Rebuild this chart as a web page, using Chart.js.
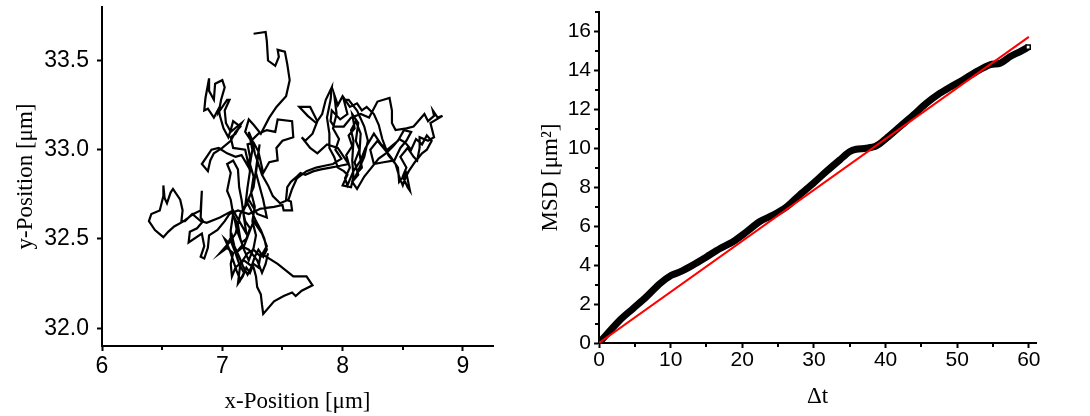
<!DOCTYPE html>
<html>
<head>
<meta charset="utf-8">
<script src="https://cdn.jsdelivr.net/npm/chart.js@4"></script>
<style>
  body { margin: 0; background: #fff; }
  #left { position: absolute; left: 0; top: 0; }
  #right { position: absolute; left: 520px; top: 0; }
</style>
</head>
<body>
<canvas id="left" width="520" height="416"></canvas>
<canvas id="right" width="570" height="416"></canvas>
<script>
// trajectory of the particle, µm
const xPos = [7.26,7.36,7.37,7.38,7.44,7.47,7.46,7.52,7.54,7.56,7.53,7.45,7.39,7.32,7.26,7.22,7.19,7.24,7.30,7.37,
  7.44,7.46,7.58,7.59,7.50,7.45,7.46,7.39,7.34,7.30,7.26,7.21,7.23,7.22,7.16,7.11,7.04,6.97,6.91,6.87,
  6.83,6.88,6.90,6.93,7.00,7.07,7.11,7.15,7.09,7.07,7.05,7.01,6.98,6.97,6.93,6.88,6.85,6.86,6.89,6.89,
  6.93,6.94,7.00,7.02,6.99,6.97,7.04,7.06,7.02,7.03,7.07,7.16,7.11,7.07,7.09,7.19,7.23,7.21,7.19,7.26,
  7.29,7.31,7.28,7.34,7.37,7.29,7.22,7.15,7.11,7.07,7.11,7.18,7.22,7.26,7.33,7.37,7.32,7.26,7.21,7.15,
  7.13,7.17,7.20,7.23,7.26,7.30,7.32,7.46,7.59,7.70,7.75,7.66,7.61,7.58,7.51,7.43,7.34,7.33,7.32,7.29,
  7.28,7.26,7.18,7.11,7.08,7.07,7.09,7.04,6.98,7.07,7.07,7.09,7.07,7.04,7.07,7.04,7.09,7.13,7.14,7.16,
  7.18,7.20,7.09,6.98,6.87,6.82,6.75,6.69,6.66,6.67,6.65,6.59,6.57,6.54,6.52,6.51,6.51,6.48,6.41,6.39,
  6.44,6.51,6.55,6.60,6.68,6.76,6.82,6.83,6.82,6.84,6.79,6.73,6.72,6.83,6.85,6.82,6.85,6.88,6.89,6.96,
  7.02,7.06,7.13,7.22,7.32,7.43,7.50,7.51,7.58,7.57,7.53,7.54,7.57,7.62,7.65,7.69,7.76,7.82,7.90,7.98,
  8.05,8.01,7.96,7.87,7.79,7.73,7.66,7.69,7.75,7.79,7.73,7.64,7.71,7.78,7.83,7.86,7.91,7.90,7.87,7.89,
  7.89,7.93,7.96,8.01,8.04,8.00,8.07,8.09,8.08,8.09,8.07,8.11,8.15,8.14,8.16,8.12,8.18,8.21,8.18,8.12,
  8.05,8.01,8.04,7.98,7.91,7.90,7.93,8.01,8.07,8.15,8.22,8.29,8.39,8.41,8.41,8.44,8.53,8.59,8.68,8.71,
  8.76,8.75,8.79,8.83,8.73,8.76,8.71,8.64,8.64,8.62,8.59,8.54,8.48,8.53,8.50,8.54,8.56,8.53,8.47,8.46,
  8.40,8.34,8.29,8.23,8.26,8.34,8.43,8.48,8.53,8.57,8.51,8.46,8.37,8.32,8.26,8.19,8.15,8.09,8.04,
  8.02,8.06,8.03,8.08,8.05,8.10,8.08,8.13,8.11,8.14,8.10,8.13,8.08,8.12,8.18,8.24,8.30,8.36,8.42,8.47,
  8.52,8.57,8.61,8.66,8.70,8.74,8.70,8.66,8.60,8.55,8.52,8.50,8.47,8.44,8.38,8.33,8.30,8.26,8.20,8.16,
  8.12,8.06,8.00,7.96,7.93,7.95,7.92,7.97,7.94,7.99,7.92,7.85,7.78,7.70,7.62,7.58,7.55,7.48,7.42,7.38,
  7.33,7.30,7.27,7.25,7.22,7.25,7.23,7.26,7.24,7.27,7.25,7.28,7.26,7.22,7.18,7.15,7.13,7.10,7.12,7.16,
  7.20,7.23,7.19,7.17,7.21,7.24,7.28,7.32,7.35,7.37,7.34,7.30,7.27,7.24,7.21,7.17,7.14,7.10,7.08,7.05,
  7.02,7.06,7.09,7.12,7.15,7.18,7.14,7.11,7.16,7.22,7.29,7.33,7.36,7.38];
const yPos = [33.65,33.66,33.61,33.50,33.47,33.52,33.56,33.55,33.48,33.39,33.30,33.24,33.18,33.09,33.14,33.17,33.10,33.05,33.09,33.11,
  33.10,33.17,33.16,33.07,33.05,33.01,32.94,32.93,32.87,32.99,33.04,33.03,32.96,32.90,32.97,32.96,32.98,33.01,33.00,32.96,
  32.92,32.88,32.94,32.98,33.01,33.05,33.10,33.13,33.16,33.11,33.07,33.12,33.19,33.23,33.18,33.23,33.22,33.29,33.40,33.33,
  33.28,33.37,33.39,33.35,33.28,33.21,33.28,33.28,33.22,33.15,33.10,33.15,33.09,33.07,33.01,33.00,32.88,32.79,32.68,32.79,
  32.94,33.03,32.87,32.72,32.62,32.64,32.72,32.64,32.53,32.49,32.42,32.46,32.53,32.60,32.53,32.46,32.40,32.44,32.42,32.36,
  32.25,32.29,32.34,32.31,32.36,32.34,32.42,32.36,32.29,32.29,32.24,32.21,32.18,32.20,32.18,32.15,32.08,32.13,32.19,32.23,
  32.29,32.34,32.38,32.34,32.29,32.36,32.42,32.45,32.42,32.49,32.55,32.64,32.72,32.77,32.87,32.92,32.94,32.89,32.79,32.72,
  32.62,32.53,32.66,32.62,32.59,32.60,32.64,32.60,32.60,32.66,32.72,32.78,32.76,32.70,32.73,32.80,32.74,32.66,32.64,32.60,
  32.55,32.51,32.54,32.57,32.60,32.64,32.66,32.77,32.62,32.60,32.56,32.54,32.48,32.53,32.46,32.40,32.39,32.45,32.52,32.55,
  32.60,32.64,32.66,32.64,32.67,32.68,32.69,32.66,32.66,32.71,32.72,32.79,32.82,32.85,32.87,32.86,32.88,32.89,32.90,32.91,
  32.92,32.96,33.01,33.03,32.98,33.01,33.07,33.05,33.09,33.16,33.24,33.24,33.19,33.15,33.20,33.28,33.35,33.28,33.18,33.09,
  33.01,32.96,32.90,32.88,32.86,32.80,32.79,32.85,32.94,33.05,33.11,33.16,33.09,32.98,32.90,32.87,32.96,33.05,33.13,33.22,
  33.28,33.28,33.20,33.17,33.22,33.16,33.13,33.13,33.18,33.20,33.18,33.27,33.29,33.22,33.15,33.11,33.12,33.13,33.20,33.16,
  33.19,33.22,33.18,33.19,33.15,33.07,33.05,33.07,33.01,32.94,32.96,33.01,32.96,32.90,32.85,32.79,32.77,32.87,32.82,32.90,
  32.96,33.01,33.05,33.00,32.92,32.93,32.94,33.01,33.05,33.10,33.11,33.05,33.00,33.03,33.09,33.01,32.94,32.88,32.80,
  32.84,32.90,32.97,33.02,33.08,33.12,33.20,33.15,33.05,33.00,32.93,32.86,32.82,32.78,32.85,32.90,32.95,32.98,33.02,33.06,
  33.04,33.00,33.06,33.03,33.08,33.05,33.00,32.98,32.93,32.88,32.84,32.80,32.85,32.92,32.97,33.06,33.14,33.20,33.24,33.22,
  33.26,33.24,33.30,33.25,33.31,33.20,33.12,33.06,33.00,32.95,32.92,32.91,32.90,32.88,32.84,32.78,32.72,32.70,32.74,32.80,
  32.86,32.92,32.98,33.05,33.10,33.00,32.92,32.85,32.76,32.68,32.60,32.52,32.45,32.38,32.44,32.50,32.58,32.62,32.55,32.48,
  32.50,32.56,32.60,32.66,32.70,32.66,32.60,32.55,32.50,32.44,32.40,32.44,32.40,32.34,32.30,32.35,32.40,32.46,32.52,32.48,
  32.50,32.44,32.38,32.32,32.27,32.31,32.36,32.42,32.46,32.44,32.38,32.31,32.36,32.42];
const leftXTicks = [6, 7, 8, 9];
const leftXMinor = [6.5, 7.5, 8.5];
const leftYTicks = [32.0, 32.5, 33.0, 33.5];

// mean square displacement
const msdT = [0,2.9,4.75,6.6,8.5,10.1,11.3,13.1,15.0,16.9,18.7,20.6,22.4,24.3,26.2,28.0,29.9,31.7,33.6,35.0,
  35.9,37.3,38.7,40.1,42.0,43.9,45.7,47.6,49.0,50.8,52.7,54.6,56.0,57.4,58.8,59.9];
const msdVal = [0,1.17,1.77,2.37,3.05,3.48,3.65,4.0,4.42,4.85,5.2,5.71,6.23,6.57,7.0,7.6,8.2,8.8,9.4,9.83,
  9.95,10.0,10.12,10.51,11.11,11.71,12.31,12.83,13.14,13.51,13.94,14.29,14.37,14.71,14.97,15.19];
const fitT = [0, 60];
const fitVal = [0, 15.72];
const rightXTicks = [0, 10, 20, 30, 40, 50, 60];
const rightXMinor = [5, 15, 25, 35, 45, 55];
const rightYTicks = [0, 2, 4, 6, 8, 10, 12, 14, 16];
const rightYMinor = [1, 3, 5, 7, 9, 11, 13, 15, 17];

Chart.defaults.color = '#000';
Chart.defaults.animation = false;

const minorTicks = {
  id: 'minorTicks',
  afterDraw(chart, args, opts) {
    const ctx = chart.ctx;
    const { x, y } = chart.scales;
    ctx.save();
    ctx.strokeStyle = '#000';
    ctx.lineWidth = 2;
    (opts.x || []).forEach(v => {
      const px = Math.round(x.getPixelForValue(v));
      ctx.beginPath(); ctx.moveTo(px, x.top); ctx.lineTo(px, x.top + 4); ctx.stroke();
    });
    (opts.y || []).forEach(v => {
      const py = Math.round(y.getPixelForValue(v));
      ctx.beginPath(); ctx.moveTo(y.right, py); ctx.lineTo(y.right - 4, py); ctx.stroke();
    });
    ctx.restore();
  }
};

function axis(min, max, ticks, labelFmt, fontSize, pad, size, title, titlePad) {
  return {
    type: 'linear',
    min: min,
    max: max,
    afterBuildTicks: s => { s.ticks = ticks.map(v => ({ value: v })); },
    afterFit: s => {
      if (s.isHorizontal()) s.height = size; else s.width = size;
      // let layout.padding alone decide the plot box
      s.paddingTop = 0; s.paddingBottom = 0; s.paddingLeft = 0; s.paddingRight = 0;
    },
    grid: { drawOnChartArea: false, drawTicks: true, tickLength: 5, tickWidth: 2, tickColor: '#000' },
    border: { display: true, color: '#000', width: 2 },
    ticks: {
      padding: pad,
      color: '#000',
      font: { family: '"Liberation Sans", Arial, sans-serif', size: fontSize },
      callback: labelFmt
    },
    title: {
      display: true,
      text: title,
      color: '#000',
      padding: titlePad,
      font: { family: '"Liberation Serif", "Times New Roman", serif', size: 23 }
    }
  };
}

new Chart(document.getElementById('left'), {
  type: 'scatter',
  data: {
    datasets: [{
      data: xPos.map((x, i) => ({ x: x, y: yPos[i] })),
      showLine: true,
      borderColor: '#000',
      borderWidth: 2.2,
      pointRadius: 0,
      tension: 0
    }]
  },
  options: {
    responsive: false,
    layout: { padding: { top: 7, right: 27, left: 0, bottom: 0 } },
    plugins: {
      legend: { display: false },
      tooltip: { enabled: false },
      minorTicks: { x: leftXMinor }
    },
    scales: {
      x: axis(6, 9.25, leftXTicks, v => String(v), 23, 2, 70, 'x-Position [μm]', { top: 0, bottom: 0 }),
      y: axis(31.9, 33.8, leftYTicks, v => v.toFixed(1), 23, 8, 102, 'y-Position [μm]', { top: 12, bottom: 0 })
    }
  },
  plugins: [minorTicks]
});

new Chart(document.getElementById('right'), {
  type: 'scatter',
  data: {
    datasets: [{
      data: fitT.map((t, i) => ({ x: t, y: fitVal[i] })),
      showLine: true,
      borderColor: '#ff0000',
      borderWidth: 2,
      pointRadius: 0,
      order: 0
    }, {
      data: msdT.map((t, i) => ({ x: t, y: msdVal[i] })),
      showLine: true,
      borderColor: '#000',
      borderWidth: 7,
      tension: 0.3,
      pointRadius: msdT.map((t, i) => i === msdT.length - 1 ? 3 : 0),
      pointStyle: 'rect',
      pointBackgroundColor: '#fff',
      pointBorderColor: '#000',
      pointBorderWidth: 1.5,
      order: 1
    }]
  },
  options: {
    responsive: false,
    layout: { padding: { top: 12, right: 54, left: 0, bottom: 0 } },
    plugins: {
      legend: { display: false },
      tooltip: { enabled: false },
      minorTicks: { x: rightXMinor, y: rightYMinor }
    },
    scales: {
      x: axis(0, 61, rightXTicks, v => String(v), 21, 0, 73, 'Δt', { top: 0, bottom: 5 }),
      y: axis(0, 17, rightYTicks, v => String(v), 21, 3, 79, 'MSD [μm²]', { top: 17, bottom: 0 })
    }
  },
  plugins: [minorTicks]
});
</script>
</body>
</html>
